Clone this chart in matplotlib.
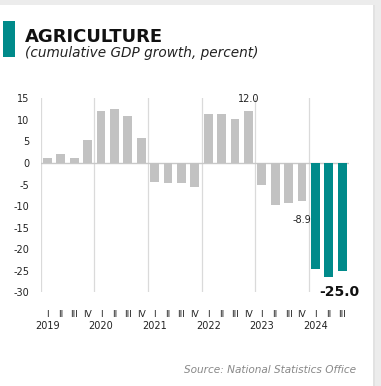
import matplotlib
matplotlib.use('Agg')
import matplotlib.pyplot as plt
from matplotlib.patches import Rectangle
import matplotlib.transforms as mtransforms

# data
years = ['2019', '2020', '2021', '2022', '2023', '2024']
quarters = ['I', 'II', 'III', 'IV']
values = [1.2, 2.0, 1.2, 5.4,
          12.1, 12.5, 11.0, 5.9,
          -4.5, -4.6, -4.7, -5.5,
          11.3, 11.3, 10.2, 12.0,
          -5.0, -9.8, -9.4, -8.9,
          -24.7, -26.5, -25.0]
highlight_from = 20  # 2024 bars in teal
y_ticks = [15, 10, 5, 0, -5, -10, -15, -20, -25, -30]

teal = '#008a8a'
grey = '#c2c2c2'
W, H = 381, 386

plt.rcParams['font.family'] = 'DejaVu Sans'
fig = plt.figure(figsize=(W / 100, H / 100), dpi=100)
fig.patch.set_facecolor('#ececec')

# white card
fig.patches.append(Rectangle((0, 0), 373 / W, (H - 5) / H, transform=fig.transFigure,
                             facecolor='white', edgecolor='none', zorder=-2))
fig.patches.append(Rectangle((373 / W, 0), 2 / W, (H - 5) / H, transform=fig.transFigure,
                             facecolor='#e2e2e2', edgecolor='none', zorder=-2))

# title block
fig.patches.append(Rectangle((3 / W, 1 - 57 / H), 12 / W, 36 / H, transform=fig.transFigure,
                             facecolor=teal, edgecolor='none', zorder=1))
fig.text(25 / W, 1 - 42 / H, 'AGRICULTURE', fontsize=13, fontweight='bold',
         color='#111111', va='baseline', ha='left')
fig.text(25 / W, 1 - 57 / H, '(cumulative GDP growth, percent)', fontsize=9.8,
         style='italic', color='#222222', va='baseline', ha='left')
fig.text(356 / W, 1 - 373 / H, 'Source: National Statistics Office', fontsize=7.6,
         style='italic', color='#888888', va='baseline', ha='right')

ax = fig.add_axes([40.7 / W, 1 - 292.3 / H, 308.2 / W, 194 / H])
ax.set_zorder(5)
ax.patch.set_alpha(0)
x = list(range(len(values)))
colors = [teal if i >= highlight_from else grey for i in x]
ax.bar(x, values, width=0.67, color=colors, zorder=2)

ax.set_xlim(-0.5, 22.5)
ax.set_ylim(-30, 15)
for k in range(len(years)):
    ax.axvline(4 * k - 0.5, color='#dadada', linewidth=0.9, zorder=1)
ax.axhline(0, color='#c8c8c8', linewidth=1.0, zorder=1)

for s in ax.spines.values():
    s.set_visible(False)
ax.set_yticks(y_ticks)
ax.set_yticklabels([str(t) for t in y_ticks], fontsize=7, color='#222222')
ax.tick_params(axis='y', length=0, pad=8)
ax.set_xticks([])

trans = mtransforms.blended_transform_factory(ax.transData, ax.transAxes)
for i in x:
    ax.text(i, -0.115, quarters[i % 4], transform=trans, fontsize=6.5, ha='center',
            va='center', color='#222222')
for k, yr in enumerate(years):
    ax.text(4 * k, -0.175, yr, transform=trans, fontsize=7, ha='center',
            va='center', color='#222222')

# value labels
ax.annotate('12.0', (15, values[15]), xytext=(0, 9), textcoords='offset points',
            ha='center', va='center', fontsize=7, color='#222222')
ax.annotate('-8.9', (19, values[19]), xytext=(0, -13.5), textcoords='offset points',
            ha='center', va='center', fontsize=7, color='#222222')
ax.annotate('-25.0', (22, values[22]), xytext=(-2, -15.5), textcoords='offset points',
            ha='center', va='center', fontsize=10, fontweight='bold', color='#111111')

fig.savefig('out.png', dpi=100, facecolor=fig.get_facecolor())
